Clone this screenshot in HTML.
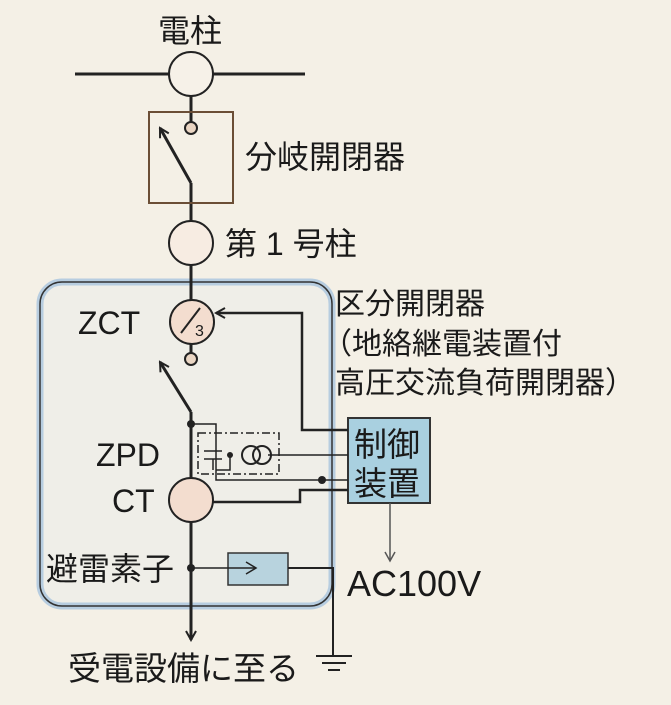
<!DOCTYPE html><html><head><meta charset="utf-8"><style>
body{margin:0;background:#f4f0e6}
svg text{font-family:"Liberation Sans","Noto Sans CJK JP",sans-serif;fill:#1a1a1a}
</style></head><body>
<svg width="671" height="700" viewBox="0 0 671 700" xmlns="http://www.w3.org/2000/svg">
<defs><marker id="a" markerWidth="12" markerHeight="12" refX="10" refY="6" orient="auto" markerUnits="userSpaceOnUse"><path d="M1,1 L10,6 L1,11" fill="none" stroke="#222" stroke-width="2"/></marker></defs>
<rect width="671" height="700" fill="#f4f0e6"/>
<rect x="40" y="282" width="292" height="324" rx="22" fill="#efeee8" stroke="#b7cde0" stroke-width="7"/>
<rect x="40" y="282" width="292" height="324" rx="22" fill="none" stroke="#333" stroke-width="1.5"/>
<rect x="348" y="418" width="82" height="85" fill="#a9d0e0" stroke="#333" stroke-width="2"/>
<rect x="228" y="553" width="60" height="32" fill="#b8d3de" stroke="#333" stroke-width="1.5"/>
<g stroke="#222" stroke-width="3" fill="none">
<line x1="75" y1="74" x2="305" y2="74"/>
<line x1="191" y1="96" x2="191" y2="122"/>
<line x1="191" y1="183" x2="191" y2="222"/>
<line x1="191" y1="265" x2="191" y2="300"/>
<line x1="191" y1="343" x2="191" y2="353"/>
<line x1="191" y1="412" x2="191" y2="478"/>
<line x1="191" y1="522" x2="191" y2="640" marker-end="url(#a)"/>
<path d="M191,183 L160,128" marker-end="url(#a)"/>
<path d="M191,412 L160,362" marker-end="url(#a)"/>
<path d="M348,430 H302 V313 H216" stroke-width="2.5" marker-end="url(#a)"/>
<path d="M212,502 H300 V490 H348" stroke-width="2.5"/>
<path d="M288,568 H333 V656" stroke-width="2"/>
</g>
<g stroke="#222" stroke-width="1.5" fill="none">
<path d="M191,424 H216 V480 H348"/>
<path d="M230,455 V470 H216"/>
<line x1="268" y1="455" x2="348" y2="455"/>
<line x1="191" y1="568" x2="256" y2="568"/>
<path d="M246,562 L256,568 L246,574"/>
<line x1="390" y1="503" x2="390" y2="560" stroke="#555"/>
<path d="M385,552 L390,561 L395,552" stroke="#555"/>
<line x1="204" y1="451" x2="222" y2="451"/><line x1="204" y1="459" x2="222" y2="459"/>
<line x1="213" y1="459" x2="213" y2="470"/>
<rect x="198" y="433" width="81" height="41" stroke-dasharray="8,3,2,3"/>
<line x1="316" y1="656" x2="352" y2="656" stroke-width="2"/>
<line x1="322" y1="663" x2="346" y2="663" stroke-width="2"/>
<line x1="328" y1="670" x2="340" y2="670" stroke-width="2"/>
</g>
<rect x="149" y="112" width="84" height="91" fill="none" stroke="#6b4e36" stroke-width="2"/>
<g stroke="#222" stroke-width="2" fill="#f7ece2">
<circle cx="191" cy="74" r="22" fill="#f6f1e8"/>
<circle cx="191" cy="243" r="22"/>
<circle cx="192" cy="322" r="22" fill="#f3ddcf"/>
<circle cx="191" cy="500" r="22" fill="#f3ddcf"/>
<circle cx="191" cy="128" r="6" fill="#ead6c4"/>
<circle cx="191" cy="359" r="6" fill="#ead6c4"/>
</g>
<line x1="181" y1="333" x2="200" y2="308" stroke="#222" stroke-width="2"/>
<text x="195" y="336" font-size="16">3</text>
<g fill="none" stroke="#222" stroke-width="2"><circle cx="251" cy="455" r="9"/><circle cx="262" cy="455" r="9"/></g>
<g fill="#222"><circle cx="191" cy="424" r="4"/><circle cx="230" cy="455" r="3"/><circle cx="322" cy="480" r="4"/><circle cx="191" cy="568" r="4"/></g>
<g font-size="32">
<text x="158" y="42">電柱</text>
<text x="245" y="168">分岐開閉器</text>
<text x="225" y="255">第 1 号柱</text>
<text x="78" y="334">ZCT</text>
<text x="96" y="466">ZPD</text>
<text x="112" y="512">CT</text>
<text x="46" y="580">避雷素子</text>
<text x="347" y="596" font-size="36">AC100V</text>
<text x="68" y="680" font-size="33">受電設備に至る</text>
</g>
<g font-size="30">
<text x="335" y="314">区分開閉器</text>
<text x="322" y="354">（地絡継電装置付</text>
<text x="335" y="393">高圧交流負荷開閉器）</text>
</g>
<g font-size="33"><text x="354" y="456">制御</text><text x="354" y="495">装置</text></g>
</svg>
</body></html>
